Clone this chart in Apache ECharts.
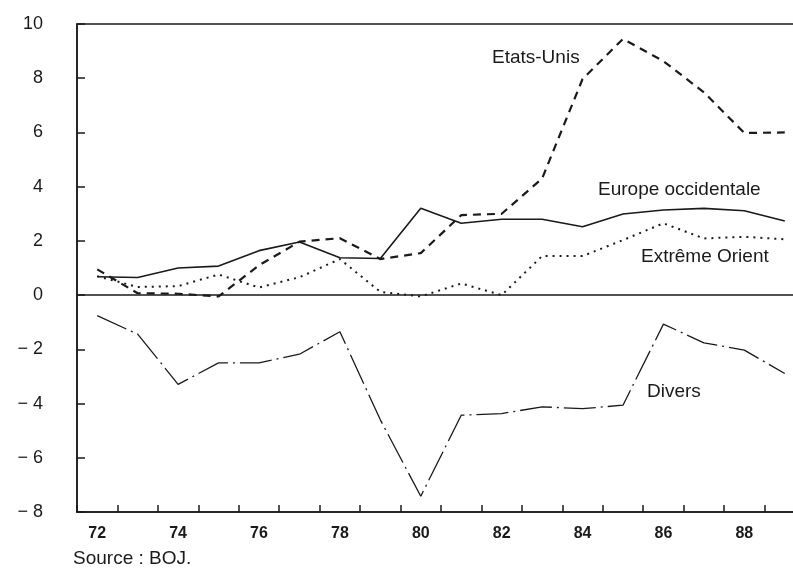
<!DOCTYPE html>
<html>
<head>
<meta charset="utf-8">
<script src="https://cdn.jsdelivr.net/npm/echarts@6/dist/echarts.min.js"></script>
<style>html,body{margin:0;padding:0;background:#fff;overflow:hidden;width:793px;height:568px;}#c{width:806px;height:568px;}</style>
</head>
<body>
<div id="c"></div>
<script>
var years = ['72','73','74','75','76','77','78','79','80','81','82','83','84','85','86','87','88','89'];
var etatsUnis = [0.95,0.07,0.05,-0.05,1.1,1.97,2.1,1.33,1.55,2.95,3.0,4.3,7.97,9.45,8.63,7.48,5.98,6.0];
var europe = [0.68,0.65,1.0,1.07,1.64,1.96,1.38,1.35,3.2,2.65,2.8,2.8,2.52,2.99,3.14,3.2,3.11,2.73];
var extremeOrient = [0.7,0.3,0.33,0.76,0.28,0.66,1.33,0.12,-0.05,0.43,0.0,1.44,1.44,2.03,2.65,2.09,2.15,2.06];
var divers = [-0.76,-1.44,-3.29,-2.5,-2.5,-2.18,-1.35,-4.6,-7.42,-4.43,-4.37,-4.12,-4.19,-4.06,-1.07,-1.76,-2.03,-2.89];
var yTicks = {min:-8, max:10, interval:2};

var ink = '#1a1a1a';
var chart = echarts.init(document.getElementById('c'), null, {renderer:'canvas', width:806, height:568});
chart.setOption({
  animation:false,
  backgroundColor:'#fff',
  grid:{left:77, top:24, bottom:56, right:1, show:true, borderColor:ink, borderWidth:1.5, backgroundColor:'transparent'},
  xAxis:{type:'category', data:years, boundaryGap:true,
    axisLine:{onZero:false, lineStyle:{color:ink, width:1.5}},
    axisTick:{show:true, inside:true, length:7, interval:0, lineStyle:{color:ink, width:1.5}},
    axisLabel:{interval:1, color:ink, fontFamily:'Liberation Sans, Arial, sans-serif', fontWeight:'bold', fontSize:16, margin:14},
    splitLine:{show:false}},
  yAxis:{type:'value', min:yTicks.min, max:yTicks.max, interval:yTicks.interval,
    axisLine:{show:true, lineStyle:{color:ink, width:1.5}},
    axisTick:{show:true, inside:true, length:8, lineStyle:{color:ink, width:1.5}},
    axisLabel:{color:ink, fontFamily:'Liberation Sans, Arial, sans-serif', fontSize:18, margin:34,
      formatter:function(v){return v<0 ? '\u2212 '+(-v) : String(v);}},
    splitLine:{show:false}},
  series:[
    {name:'Etats-Unis', type:'line', data:etatsUnis, symbol:'none', lineStyle:{color:ink, width:2.2, type:[8,6]},
     markLine:{silent:true, symbol:'none', label:{show:false}, lineStyle:{color:ink, width:1.6, type:'solid'}, data:[{yAxis:0}]}},
    {name:'Europe occidentale', type:'line', data:europe, symbol:'none', lineStyle:{color:ink, width:1.6, type:'solid'}},
    {name:'Extrême Orient', type:'line', data:extremeOrient, symbol:'none', lineStyle:{color:ink, width:2, type:[2,5]}},
    {name:'Divers', type:'line', data:divers, symbol:'none', lineStyle:{color:ink, width:1.3, type:[32,5,2,5]}}
  ],
  graphic:[
    {type:'text', left:492, top:48, style:{text:'Etats-Unis', font:'19px "Liberation Sans", Arial, sans-serif', fill:ink}},
    {type:'text', left:598, top:180, style:{text:'Europe occidentale', font:'19px "Liberation Sans", Arial, sans-serif', fill:ink}},
    {type:'text', left:641, top:247, style:{text:'Extrême Orient', font:'19px "Liberation Sans", Arial, sans-serif', fill:ink}},
    {type:'text', left:647, top:382, style:{text:'Divers', font:'19px "Liberation Sans", Arial, sans-serif', fill:ink}},
    {type:'text', left:73, top:549, style:{text:'Source : BOJ.', font:'19px "Liberation Sans", Arial, sans-serif', fill:ink}}
  ]
});
</script>
</body>
</html>
